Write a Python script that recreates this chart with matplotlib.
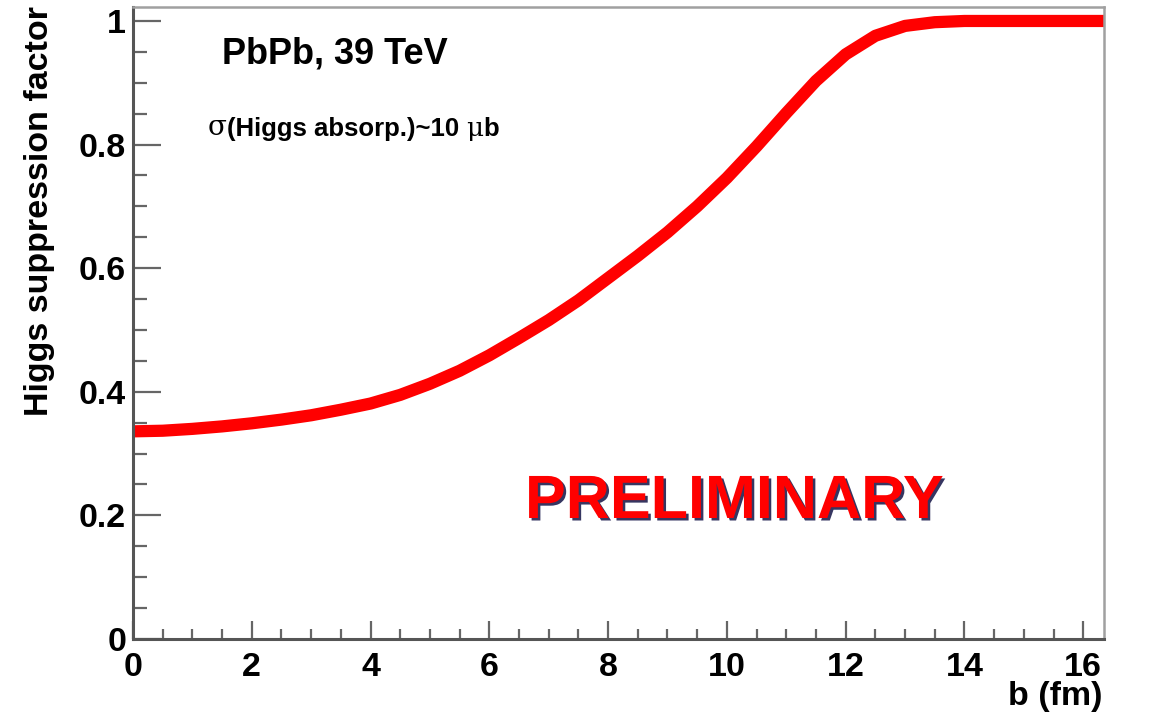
import matplotlib
matplotlib.use("Agg")
import matplotlib.pyplot as plt
from matplotlib.ticker import MultipleLocator, FormatStrFormatter
import matplotlib.patheffects as pe

# Impact parameter b (fm) and Higgs suppression factor
b_fm = [0.0, 0.5, 1.0, 1.5, 2.0, 2.5, 3.0, 3.5, 4.0, 4.5, 5.0, 5.5, 6.0,
        6.5, 7.0, 7.5, 8.0, 8.5, 9.0, 9.5, 10.0, 10.5, 11.0, 11.5, 12.0,
        12.5, 13.0, 13.5, 14.0, 15.0, 16.4]
suppression = [0.336, 0.337, 0.340, 0.344, 0.349, 0.355, 0.362, 0.371, 0.381,
               0.395, 0.413, 0.434, 0.459, 0.487, 0.516, 0.548, 0.584, 0.620,
               0.658, 0.700, 0.746, 0.797, 0.851, 0.903, 0.946, 0.976, 0.992,
               0.998, 1.000, 1.000, 1.000]

x_major = [0, 2, 4, 6, 8, 10, 12, 14, 16]
y_major = [0, 0.2, 0.4, 0.6, 0.8, 1.0]

FONT = "Liberation Sans"
W, H = 1155, 720

fig = plt.figure(figsize=(W / 100, H / 100), dpi=100)
ax = fig.add_axes([133 / W, 81 / H, 971 / W, 632 / H])

ax.plot(b_fm, suppression, color="#ff0000", lw=8.8, solid_capstyle="butt",
        solid_joinstyle="round")

ax.set_xlim(0, 16.35)
ax.set_ylim(0, 1.0226)

ax.xaxis.set_major_locator(plt.FixedLocator(x_major))
ax.xaxis.set_minor_locator(MultipleLocator(0.5))
ax.yaxis.set_major_locator(plt.FixedLocator(y_major))
ax.yaxis.set_minor_locator(MultipleLocator(0.05))
ax.xaxis.set_major_formatter(FormatStrFormatter("%g"))
ax.yaxis.set_major_formatter(FormatStrFormatter("%g"))

ax.tick_params(axis="both", which="both", direction="in", color="#666666",
               width=1.6, labelsize=24.5, top=False, right=False)
ax.tick_params(axis="x", which="major", length=13, pad=9)
ax.tick_params(axis="x", which="minor", length=7)
ax.tick_params(axis="y", which="major", length=20, pad=5)
ax.tick_params(axis="y", which="minor", length=10)
for lbl in ax.get_xticklabels() + ax.get_yticklabels():
    lbl.set_fontfamily(FONT)
    lbl.set_fontweight("bold")

for side in ("left", "bottom"):
    ax.spines[side].set_color("#555555")
    ax.spines[side].set_linewidth(2.2)
for side in ("top", "right"):
    ax.spines[side].set_color("#a0a0a0")
    ax.spines[side].set_linewidth(1.8)

# Axis titles, ROOT style (at the far ends of the axes)
fig.text(40 / W, 1 - 6 / H, "Higgs suppression factor", rotation=90,
         ha="center", va="top", fontsize=24.5, fontweight="bold", family=FONT)
fig.text(1103 / W, 1 - 697 / H, "b (fm)", ha="right", va="center",
         fontsize=24.5, fontweight="bold", family=FONT)

# Annotations
ax.text(0.0917, 0.911, "PbPb, 39 TeV", transform=ax.transAxes,
        ha="left", va="baseline", fontsize=26, fontweight="bold", family=FONT)

t1 = ax.text(0.0772, 0.797, "σ", transform=ax.transAxes, ha="left",
             va="baseline", fontsize=20, family="DejaVu Serif")
t2 = ax.annotate("(Higgs absorp.)~10 ", xy=(1, 0), xycoords=t1,
                 ha="left", va="bottom", fontsize=18.5, fontweight="bold",
                 family=FONT)
t3 = ax.annotate("μ", xy=(1, 0), xycoords=t2, ha="left", va="bottom",
                 fontsize=19, family="DejaVu Serif")
ax.annotate("b", xy=(1, 0), xycoords=t3, ha="left", va="bottom",
            fontsize=18.5, fontweight="bold", family=FONT)

fig.text(525 / W, 1 - 518 / H, "PRELIMINARY", ha="left", va="baseline",
         fontsize=44, fontweight="bold", family=FONT, color="#ff0000",
         path_effects=[pe.withSimplePatchShadow(offset=(1.8, -1.8),
                                                shadow_rgbFace="#202050",
                                                alpha=0.9)])

fig.savefig("out.png", dpi=100, facecolor="white")
